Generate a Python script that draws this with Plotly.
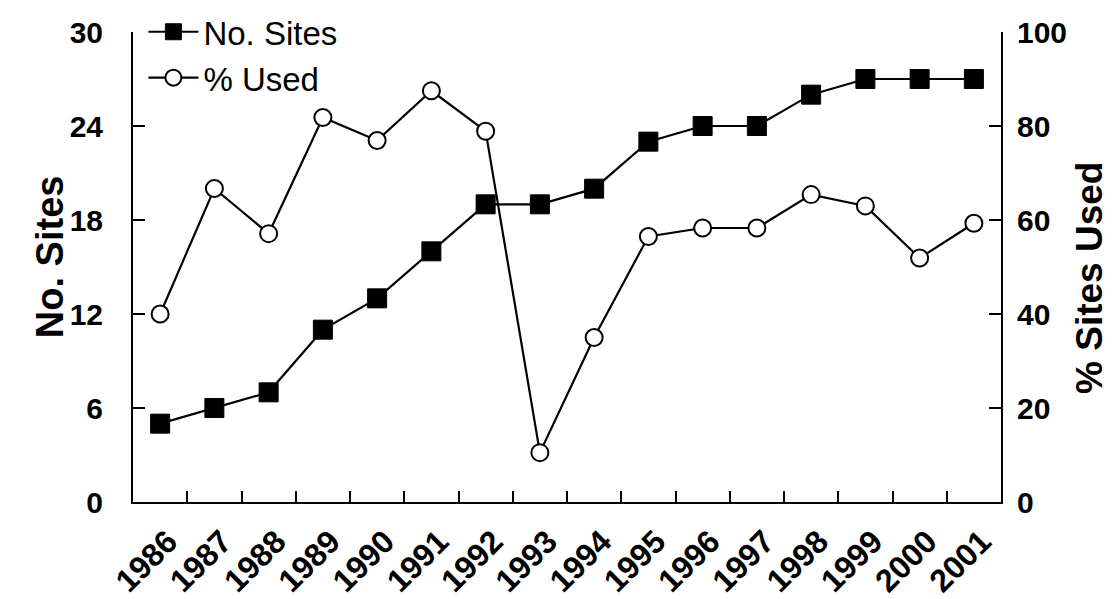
import plotly.graph_objects as go

years = ["1986", "1987", "1988", "1989", "1990", "1991", "1992", "1993",
         "1994", "1995", "1996", "1997", "1998", "1999", "2000", "2001"]
no_sites = [5, 6, 7, 11, 13, 16, 19, 19, 20, 23, 24, 24, 26, 27, 27, 27]
pct_used = [40.0, 66.7, 57.1, 81.8, 76.9, 87.5, 78.9, 10.5,
            35.0, 56.5, 58.3, 58.3, 65.4, 63.0, 51.9, 59.3]

left_ticks = [0, 6, 12, 18, 24, 30]
right_ticks = [0, 20, 40, 60, 80, 100]

FONT = "Liberation Sans, Arial, sans-serif"

fig = go.Figure()
fig.add_trace(go.Scatter(
    x=years, y=no_sites, name="No. Sites", mode="lines+markers",
    line=dict(color="black", width=2.2),
    marker=dict(symbol="square", size=19, color="black",
                line=dict(color="black", width=1)),
    yaxis="y", xaxis="x",
))
fig.add_trace(go.Scatter(
    x=years, y=pct_used, name="% Used", mode="lines+markers",
    line=dict(color="black", width=2.2),
    marker=dict(symbol="circle", size=17, color="white",
                line=dict(color="black", width=2)),
    yaxis="y2", xaxis="x",
))

tickfont = dict(family=FONT, size=30, color="black", weight="bold")
xtickfont = dict(family=FONT, size=32, color="black", weight="bold")

fig.update_layout(
    width=1112, height=599,
    margin=dict(l=125, r=119, t=24, b=105, autoexpand=False),
    paper_bgcolor="white", plot_bgcolor="white",
    showlegend=True,
    legend=dict(x=0.012, y=1.06, xanchor="left", yanchor="top",
                bgcolor="rgba(0,0,0,0)", borderwidth=0,
                font=dict(family=FONT, size=33, color="black"),
                tracegroupgap=0, itemwidth=50),
    xaxis=dict(
        type="category", categoryorder="array", categoryarray=years,
        range=[-0.5, len(years) - 0.5],
        showline=True, linecolor="black", linewidth=2,
        ticks="inside", tickson="boundaries", ticklen=11, tickwidth=2,
        tickcolor="black", tickangle=-45, tickfont=xtickfont,
        ticklabelshift=8, ticklabelstandoff=6,
        showgrid=False, zeroline=False, automargin=False,
    ),
    yaxis=dict(
        range=[0, 30], tickvals=left_ticks, ticktext=[str(v) for v in left_ticks],
        showline=True, linecolor="black", linewidth=2,
        ticks="inside", ticklen=12, tickwidth=2, tickcolor="black",
        tickfont=tickfont, ticklabelstandoff=22,
        showgrid=False, zeroline=False, automargin=False,
    ),
    yaxis2=dict(
        range=[0, 100], tickvals=right_ticks, ticktext=[str(v) for v in right_ticks],
        overlaying="y", side="right", anchor="x",
        showline=True, linecolor="black", linewidth=2,
        ticks="inside", ticklen=12, tickwidth=2, tickcolor="black",
        tickfont=tickfont, ticklabelstandoff=8,
        showgrid=False, zeroline=False, automargin=False,
    ),
    annotations=[
        dict(text="No. Sites", textangle=-90, xref="paper", yref="paper",
             x=-0.0956, y=0.521, xanchor="center", yanchor="middle",
             showarrow=False,
             font=dict(family=FONT, size=38, color="black", weight="bold")),
        dict(text="% Sites Used", textangle=-90, xref="paper", yref="paper",
             x=1.1025, y=0.4766, xanchor="center", yanchor="middle",
             showarrow=False,
             font=dict(family=FONT, size=37, color="black", weight="bold")),
    ],
)

fig.write_html("out.html")
